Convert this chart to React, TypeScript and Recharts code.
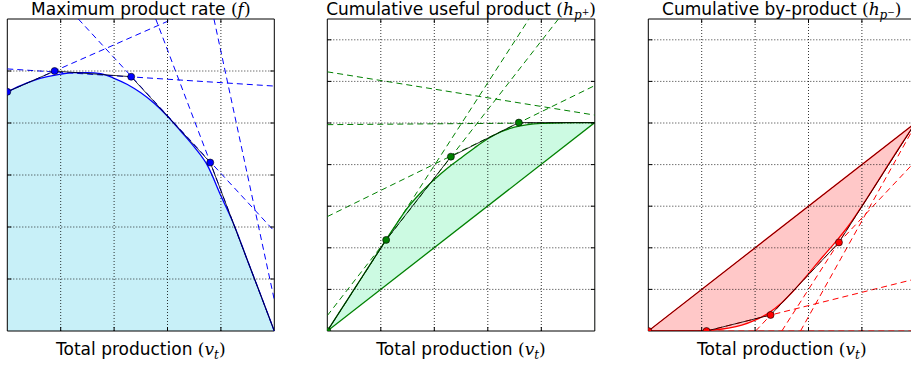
import { ComposedChart, Line, Area, XAxis, YAxis, ReferenceLine, ReferenceArea } from "recharts";

// sample positions along total production
const SAMPLE_X = [0, 0.25, 0.5, 0.75, 1, 1.25, 1.5, 1.75, 2, 2.25, 2.5, 2.75, 3, 3.25, 3.5, 3.75, 4, 4.25, 4.5, 4.75, 5];
const RATE_Y = [4.6, 4.72, 4.82, 4.89, 4.94, 4.97, 4.97, 4.95, 4.86, 4.74, 4.58, 4.38, 4.13, 3.84, 3.54, 3.18, 2.6, 2.03, 1.35, 0.68, 0];
const USEFUL_Y = [0, 0.5, 1.0, 1.5, 2.0, 2.49, 2.96, 3.33, 3.64, 3.92, 4.16, 4.4, 4.62, 4.79, 4.9, 4.96, 4.99, 5.0, 5.01, 5.01, 5.01];
const BYPRODUCT_Y = [0, 0, 0, 0, 0.01, 0.03, 0.07, 0.14, 0.26, 0.43, 0.68, 1.01, 1.38, 1.76, 2.13, 2.53, 3.0, 3.5, 4.01, 4.51, 5.0];

// straight chords from origin to end
const CHORD_X = [0, 5];
const USEFUL_CHORD_Y = [0, 5.01];
const BYPRODUCT_CHORD_Y = [0, 5.0];

// piecewise linear approximation (knots)
const RATE_KNOT_X = [0, 0.886, 2.32, 3.8, 5];
const RATE_KNOT_Y = [4.6, 5.0, 4.89, 3.24, 0];
const USEFUL_KNOT_X = [0, 1.1, 2.31, 3.58, 5];
const USEFUL_KNOT_Y = [0, 2.19, 4.19, 5.01, 5.01];
const BYPRODUCT_KNOT_X = [0, 1.09, 2.29, 3.57, 5];
const BYPRODUCT_KNOT_Y = [0, 0, 0.385, 2.13, 5.0];

// dashed tangent lines: [x1, y1, x2, y2]
const RATE_TANGENTS = [
  [0, 5.04, 5, 4.71],
  [0, 4.6, 3.1, 6.0],
  [1.33, 6.0, 5, 1.92],
  [2.78, 6.0, 5, 0],
  [3.87, 6.0, 5, 0.6],
];
const USEFUL_TANGENTS = [
  [0, 4.96, 5, 5.01],
  [0, 6.23, 5, 5.19],
  [0, 2.75, 5, 5.9],
  [0, 0.37, 4.32, 7.5],
  [0, 0, 3.77, 7.5],
];
const BYPRODUCT_TANGENTS = [
  [0, 0, 5, 0],
  [1.09, 0, 5, 1.25],
  [2.01, 0, 5, 4.08],
  [2.5, 0, 5, 5.0],
  [2.85, 0, 5, 4.95],
];

const X_TICKS = [0, 1, 2, 3, 4, 5];
const RATE_Y_TICKS = [0, 1, 2, 3, 4, 5, 6];
const CUM_Y_TICKS = [0, 1, 2, 3, 4, 5, 6, 7];

const X_MAX = 5;
// inward tick length as a share of each axis range (~4px)
const TICK_FRAC_X = 0.015;
const TICK_FRAC_Y = 0.0128;

const toPoints = (xs: number[], ys: number[]) => xs.map((x, i) => ({ x, y: ys[i] }));
const toSegment = (s: number[]) => [
  { x: s[0], y: s[1] },
  { x: s[2], y: s[3] },
];

const FONT = "DejaVu Sans";
const MATH = "DejaVu Serif";
const GRID_DASH = "1 2";

function gridAndFrame(yMax: number, yTicks: number[]) {
  const tx = X_MAX * TICK_FRAC_X;
  const ty = yMax * TICK_FRAC_Y;
  const out: any[] = [];
  X_TICKS.filter((v) => v > 0 && v < X_MAX).forEach((v) => {
    out.push(<ReferenceLine key={"gx" + v} x={v} stroke="#000" strokeWidth={0.8} strokeDasharray={GRID_DASH} />);
    out.push(<ReferenceLine key={"tb" + v} segment={[{ x: v, y: 0 }, { x: v, y: ty }]} stroke="#000" strokeWidth={1} />);
    out.push(<ReferenceLine key={"tt" + v} segment={[{ x: v, y: yMax - ty }, { x: v, y: yMax }]} stroke="#000" strokeWidth={1} />);
  });
  yTicks.filter((v) => v > 0 && v < yMax).forEach((v) => {
    out.push(<ReferenceLine key={"gy" + v} y={v} stroke="#000" strokeWidth={0.8} strokeDasharray={GRID_DASH} />);
    out.push(<ReferenceLine key={"tl" + v} segment={[{ x: 0, y: v }, { x: tx, y: v }]} stroke="#000" strokeWidth={1} />);
    out.push(<ReferenceLine key={"tr" + v} segment={[{ x: X_MAX - tx, y: v }, { x: X_MAX, y: v }]} stroke="#000" strokeWidth={1} />);
  });
  out.push(
    <ReferenceArea key="frame" x1={0} x2={X_MAX} y1={0} y2={yMax} fill="none" fillOpacity={0} stroke="#000" strokeWidth={1} />
  );
  return out;
}

type Pt = { x: number; y: number };
type PanelProps = {
  left: number;
  marginLeft: number;
  marginRight: number;
  yMax: number;
  yTicks: number[];
  fillTop: Pt[];
  fillTopType: "monotone" | "linear";
  fillBottom?: Pt[];
  fillBottomType?: "monotone" | "linear";
  fillColor: string;
  curve: Pt[];
  chord?: Pt[];
  chordBlack?: boolean;
  tangents: number[][];
  knots: Pt[];
  color: string;
};

function Panel(p: PanelProps) {
  return (
    <div style={{ position: "absolute", left: p.left, top: 0 }}>
      <ComposedChart
        width={300}
        height={367}
        margin={{ top: 19, right: p.marginRight, bottom: 36, left: p.marginLeft }}
      >
        <XAxis type="number" dataKey="x" domain={[0, X_MAX]} ticks={X_TICKS} allowDataOverflow hide />
        <YAxis type="number" domain={[0, p.yMax]} ticks={p.yTicks} allowDataOverflow hide />
        <Area
          data={p.fillTop}
          dataKey="y"
          type={p.fillTopType}
          fill={p.fillColor}
          fillOpacity={1}
          stroke="none"
          isAnimationActive={false}
        />
        {p.fillBottom && (
          <Area
            data={p.fillBottom}
            dataKey="y"
            type={p.fillBottomType}
            fill="#ffffff"
            fillOpacity={1}
            stroke="none"
            isAnimationActive={false}
          />
        )}
        {p.tangents.map((t, i) => (
          <Line
            key={"t" + i}
            data={toSegment(t)}
            dataKey="y"
            type="linear"
            stroke={p.color}
            strokeWidth={1}
            strokeDasharray="6 4"
            dot={false}
            isAnimationActive={false}
          />
        ))}
        <Line
          data={p.curve}
          dataKey="y"
          type="monotone"
          stroke={p.color}
          strokeWidth={1.3}
          dot={false}
          isAnimationActive={false}
        />
        {p.chord && (
          <Line
            data={p.chord}
            dataKey="y"
            type="linear"
            stroke={p.color}
            strokeWidth={1.3}
            dot={false}
            isAnimationActive={false}
          />
        )}
        {p.chord && p.chordBlack && (
          <Line
            data={p.chord}
            dataKey="y"
            type="linear"
            stroke="#000"
            strokeWidth={0.6}
            dot={false}
            isAnimationActive={false}
          />
        )}
        <Line
          data={p.knots}
          dataKey="y"
          type="linear"
          stroke="#000"
          strokeWidth={0.8}
          dot={false}
          isAnimationActive={false}
        />
        <Line
          data={p.knots.slice(0, 4)}
          dataKey="y"
          type="linear"
          stroke="none"
          dot={{ r: 3.5, fill: p.color, stroke: "#000", strokeWidth: 0.6 }}
          isAnimationActive={false}
        />
        {gridAndFrame(p.yMax, p.yTicks)}
      </ComposedChart>
    </div>
  );
}

function XLabel({ cx }: { cx: number }) {
  return (
    <text x={cx} y={355} textAnchor="middle" fontFamily={FONT} fontSize={17}>
      Total production{" "}
      <tspan fontFamily={MATH}>(</tspan>
      <tspan fontFamily={MATH} fontStyle="italic">v</tspan>
      <tspan fontFamily={MATH} fontStyle="italic" fontSize={12} dy={4}>t</tspan>
      <tspan fontFamily={MATH} dy={-4}>)</tspan>
    </text>
  );
}

export default function App() {
  const rateCurve = toPoints(SAMPLE_X, RATE_Y);
  const usefulCurve = toPoints(SAMPLE_X, USEFUL_Y);
  const byCurve = toPoints(SAMPLE_X, BYPRODUCT_Y);
  const usefulChord = toPoints(CHORD_X, USEFUL_CHORD_Y);
  const byChord = toPoints(CHORD_X, BYPRODUCT_CHORD_Y);

  return (
    <div
      style={{
        position: "absolute",
        left: 0,
        top: 0,
        width: 911,
        height: 367,
        overflow: "hidden",
        background: "#fff",
      }}
    >
      <Panel
        left={0}
        marginLeft={7.3}
        marginRight={25.7}
        yMax={6}
        yTicks={RATE_Y_TICKS}
        fillTop={rateCurve}
        fillTopType="monotone"
        fillColor="#c8f0f8"
        curve={rateCurve}
        tangents={RATE_TANGENTS}
        knots={toPoints(RATE_KNOT_X, RATE_KNOT_Y)}
        color="#0000ff"
      />
      <Panel
        left={310}
        marginLeft={17.3}
        marginRight={15.2}
        yMax={7.5}
        yTicks={CUM_Y_TICKS}
        fillTop={usefulCurve}
        fillTopType="monotone"
        fillBottom={usefulChord}
        fillBottomType="linear"
        fillColor="#ccfae2"
        curve={usefulCurve}
        chord={usefulChord}
        tangents={USEFUL_TANGENTS}
        knots={toPoints(USEFUL_KNOT_X, USEFUL_KNOT_Y)}
        color="#008000"
      />
      <Panel
        left={620}
        marginLeft={28.3}
        marginRight={4.7}
        yMax={7.5}
        yTicks={CUM_Y_TICKS}
        fillTop={byChord}
        fillTopType="linear"
        fillBottom={byCurve}
        fillBottomType="monotone"
        fillColor="#ffc8c8"
        curve={byCurve}
        chord={byChord}
        chordBlack
        tangents={BYPRODUCT_TANGENTS}
        knots={toPoints(BYPRODUCT_KNOT_X, BYPRODUCT_KNOT_Y)}
        color="#ff0000"
      />
      <svg
        width={911}
        height={367}
        style={{ position: "absolute", left: 0, top: 0, pointerEvents: "none" }}
      >
        <text x={140.8} y={15} textAnchor="middle" fontFamily={FONT} fontSize={17}>
          Maximum product rate{" "}
          <tspan fontFamily={MATH}>(</tspan>
          <tspan fontFamily={MATH} fontStyle="italic">f</tspan>
          <tspan fontFamily={MATH}>)</tspan>
        </text>
        <text x={461} y={15} textAnchor="middle" fontFamily={FONT} fontSize={17}>
          Cumulative useful product{" "}
          <tspan fontFamily={MATH}>(</tspan>
          <tspan fontFamily={MATH} fontStyle="italic">h</tspan>
          <tspan fontFamily={MATH} fontStyle="italic" fontSize={12} dy={4}>p</tspan>
          <tspan fontFamily={MATH} fontSize={9} dy={-4}>+</tspan>
          <tspan fontFamily={MATH}>)</tspan>
        </text>
        <text x={781.8} y={15} textAnchor="middle" fontFamily={FONT} fontSize={17}>
          Cumulative by-product{" "}
          <tspan fontFamily={MATH}>(</tspan>
          <tspan fontFamily={MATH} fontStyle="italic">h</tspan>
          <tspan fontFamily={MATH} fontStyle="italic" fontSize={12} dy={4}>p</tspan>
          <tspan fontFamily={MATH} fontSize={9} dy={-4}>−</tspan>
          <tspan fontFamily={MATH}>)</tspan>
        </text>
        <XLabel cx={140.8} />
        <XLabel cx={461} />
        <XLabel cx={781.8} />
      </svg>
    </div>
  );
}
